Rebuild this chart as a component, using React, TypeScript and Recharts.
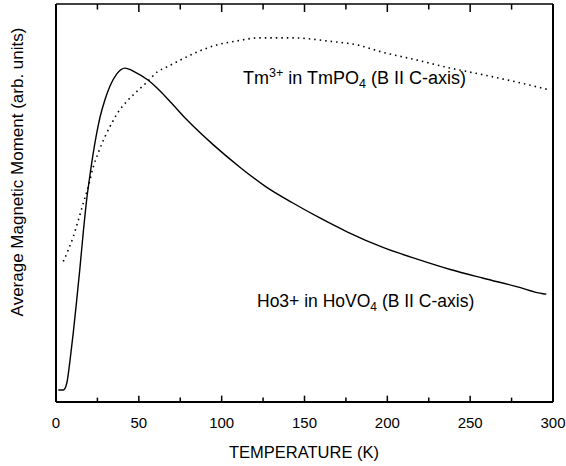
import { LineChart, Line, XAxis, YAxis, ReferenceLine } from 'recharts';

// Ho3+ in HoVO4 (solid)
const hoTemps = [1.4, 4.4, 6.5, 8.5, 10.4, 12.5, 14.5, 16.5, 18.5, 20.5, 22.5, 24.6, 26.6, 29.6, 32.6, 36.6, 41.6, 47.7, 55.5, 61, 68, 79, 95, 111, 127, 143, 159, 176, 197, 218, 238, 258, 278, 294, 296];
const hoMoment = [3.0, 3.0, 4.7, 10.6, 17.3, 25.6, 33.9, 42.8, 50.8, 57.0, 62.6, 67.6, 71.6, 76.0, 79.4, 82.4, 83.9, 82.9, 80.9, 78.9, 75.9, 70.9, 64.6, 59.0, 54.0, 50.0, 46.3, 42.7, 38.9, 35.9, 33.3, 31.1, 29.0, 27.2, 27.1];

// Tm3+ in TmPO4 (dotted)
const tmTemps = [4.4, 7.4, 10.4, 13.5, 16.5, 19.5, 22.5, 25.5, 29.6, 33.6, 37.6, 42.7, 47.7, 55, 61, 67, 75, 85, 97, 109, 123, 143, 164, 182, 197, 218, 238, 258, 278, 298];
const tmMoment = [35.3, 38.2, 41.5, 45.7, 50.0, 54.1, 59.1, 62.6, 66.7, 70.0, 72.9, 75.5, 77.6, 80.4, 82.9, 84.2, 85.9, 87.9, 89.7, 90.7, 91.5, 91.5, 90.7, 89.7, 87.9, 85.9, 83.9, 82.2, 80.4, 78.4];

const xTicks = [0, 25, 50, 75, 100, 125, 150, 175, 200, 225, 250, 275, 300];

const hoData = hoTemps.map((t, i) => ({ t, m: hoMoment[i] }));
const tmData = tmTemps.map((t, i) => ({ t, m: tmMoment[i] }));

const FONT = '"Liberation Sans", Arial, sans-serif';

function BottomTick(props: any) {
  const { x, y, payload } = props;
  if (payload.value % 50 !== 0) return <g />;
  return (
    <text x={x} y={y + 26} textAnchor="middle" fontSize={15} fontFamily={FONT} fill="#000">
      {payload.value}
    </text>
  );
}

export default function App() {
  return (
    <div style={{ position: 'absolute', left: 0, top: 0, width: 566, height: 466, background: '#fff' }}>
      <LineChart width={566} height={466} margin={{ top: 3, right: 12, bottom: 63, left: 55 }}>
        <XAxis
          xAxisId="b"
          type="number"
          dataKey="t"
          domain={[0, 300]}
          ticks={xTicks}
          height={1}
          tickSize={0}
          tickMargin={0}
          tickLine={false}
          tick={BottomTick}
          axisLine={{ stroke: '#000', strokeWidth: 2 }}
          interval={0}
          allowDataOverflow
        />
        <XAxis
          xAxisId="t"
          orientation="top"
          type="number"
          dataKey="t"
          domain={[0, 300]}
          ticks={xTicks}
          height={1}
          tick={false}
          tickLine={false}
          axisLine={{ stroke: '#000', strokeWidth: 1.5 }}
        />
        <YAxis
          yAxisId="l"
          type="number"
          domain={[0, 100]}
          width={1}
          tick={false}
          tickLine={false}
          axisLine={{ stroke: '#000', strokeWidth: 2 }}
        />
        <YAxis
          yAxisId="r"
          orientation="right"
          type="number"
          domain={[0, 100]}
          width={1}
          tick={false}
          tickLine={false}
          axisLine={{ stroke: '#000', strokeWidth: 2 }}
        />
        {/* inward tick marks, bottom and top */}
        {xTicks.map((v) => (
          <ReferenceLine
            key={`b${v}`}
            xAxisId="b"
            yAxisId="l"
            segment={[{ x: v, y: 0 }, { x: v, y: v % 50 === 0 ? 1.6 : 1.1 }]}
            stroke="#000"
            strokeWidth={1.5}
            ifOverflow="visible"
          />
        ))}
        {xTicks.map((v) => (
          <ReferenceLine
            key={`t${v}`}
            xAxisId="b"
            yAxisId="l"
            segment={[{ x: v, y: 100 }, { x: v, y: v % 50 === 0 ? 98 : 98.6 }]}
            stroke="#000"
            strokeWidth={1.5}
            ifOverflow="visible"
          />
        ))}
        <Line
          xAxisId="b"
          yAxisId="l"
          data={tmData}
          dataKey="m"
          type="monotone"
          stroke="#000"
          strokeWidth={1.6}
          strokeDasharray="1.5 4"
          dot={false}
          isAnimationActive={false}
        />
        <Line
          xAxisId="b"
          yAxisId="l"
          data={hoData}
          dataKey="m"
          type="monotone"
          stroke="#000"
          strokeWidth={1.4}
          dot={false}
          isAnimationActive={false}
        />
      </LineChart>
      <svg width={566} height={466} style={{ position: 'absolute', left: 0, top: 0, pointerEvents: 'none' }}>
        <g fontFamily={FONT} fill="#000" style={{ whiteSpace: 'pre' }}>
          <text x={17} y={172} fontSize={17} textAnchor="middle" dominantBaseline="central" transform="rotate(-90 17 172)">
            {'Average Magnetic  Moment (arb. units)'}
          </text>
          <text x={304} y={458} fontSize={16.5} textAnchor="middle">
            TEMPERATURE (K)
          </text>
          <text x={243} y={84} fontSize={18}>
            Tm<tspan fontSize={12.5} dy={-7}>3+</tspan>
            <tspan dy={7}>{' in  TmPO'}</tspan>
            <tspan fontSize={12.5} dy={4}>4</tspan>
            <tspan dy={-4}>{' (B II C-axis)'}</tspan>
          </text>
          <text x={257} y={307} fontSize={17.5}>
            Ho3+ in HoVO<tspan fontSize={12} dy={4}>4</tspan>
            <tspan dy={-4}>{' (B II C-axis)'}</tspan>
          </text>
        </g>
      </svg>
    </div>
  );
}
